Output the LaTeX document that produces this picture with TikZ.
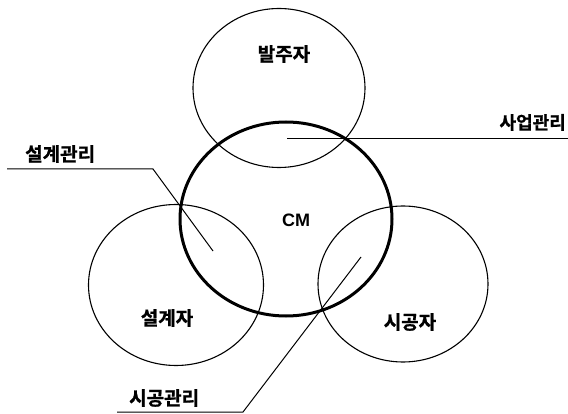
\documentclass[tikz,border=0pt]{standalone}
\usepackage{fontspec}
\newfontfamily\kr{Noto Sans CJK KR Bold}[FakeBold=1]
\newfontfamily\lat{Liberation Sans Bold}
\usetikzlibrary{shapes.geometric}
\tikzset{
  party/.style={ellipse, draw, line width=1.1pt, inner sep=0pt},
  cmring/.style={ellipse, draw, line width=3pt, inner sep=0pt},
  lbl/.style={inner sep=0pt, font=\kr\fontsize{19}{19}\selectfont},
  leader/.style={line width=1pt},
}
\begin{document}
\begin{tikzpicture}[x=1pt, y=-1pt]
\useasboundingbox (0,0) rectangle (568,414);
% circles
\node[party, minimum width=172pt, minimum height=159pt] (owner) at (279,88) {};
\node[party, minimum width=175pt, minimum height=161pt] (designer) at (176,285) {};
\node[party, minimum width=170pt, minimum height=156pt] (builder) at (403,284) {};
\node[cmring, minimum width=212pt, minimum height=194pt] (cm) at (286,219) {};
% labels
\node[lbl] (tOwner) at (284,54) {발주자};
\node[lbl] (tDesigner) at (167,318) {설계자};
\node[lbl] (tBuilder) at (410,322) {시공자};
\node[inner sep=0pt, font=\lat\fontsize{18}{18}\selectfont] (tCM) at (296,220) {CM};
% leader: 사업관리
\coordinate (a1) at (287,139);
\coordinate (a2) at (568,139);
\node[lbl, font=\kr\fontsize{18}{18}\selectfont, anchor=south east] (tPM) at (566,131) {사업관리};
\draw[leader] (a1) -- (a2);
% leader: 설계관리
\coordinate (b0) at (7,169);
\coordinate (b1) at (153,169);
\coordinate (b2) at (213,251);
\node[lbl, anchor=south west] (tDM) at (25,163) {설계관리};
\draw[leader] (b0) -- (b1) -- (b2);
% leader: 시공관리
\coordinate (c0) at (117,412);
\coordinate (c1) at (243,412);
\coordinate (c2) at (361,257);
\node[lbl, anchor=south west] (tCMg) at (129,407) {시공관리};
\draw[leader] (c0) -- (c1) -- (c2);
\end{tikzpicture}
\end{document}
